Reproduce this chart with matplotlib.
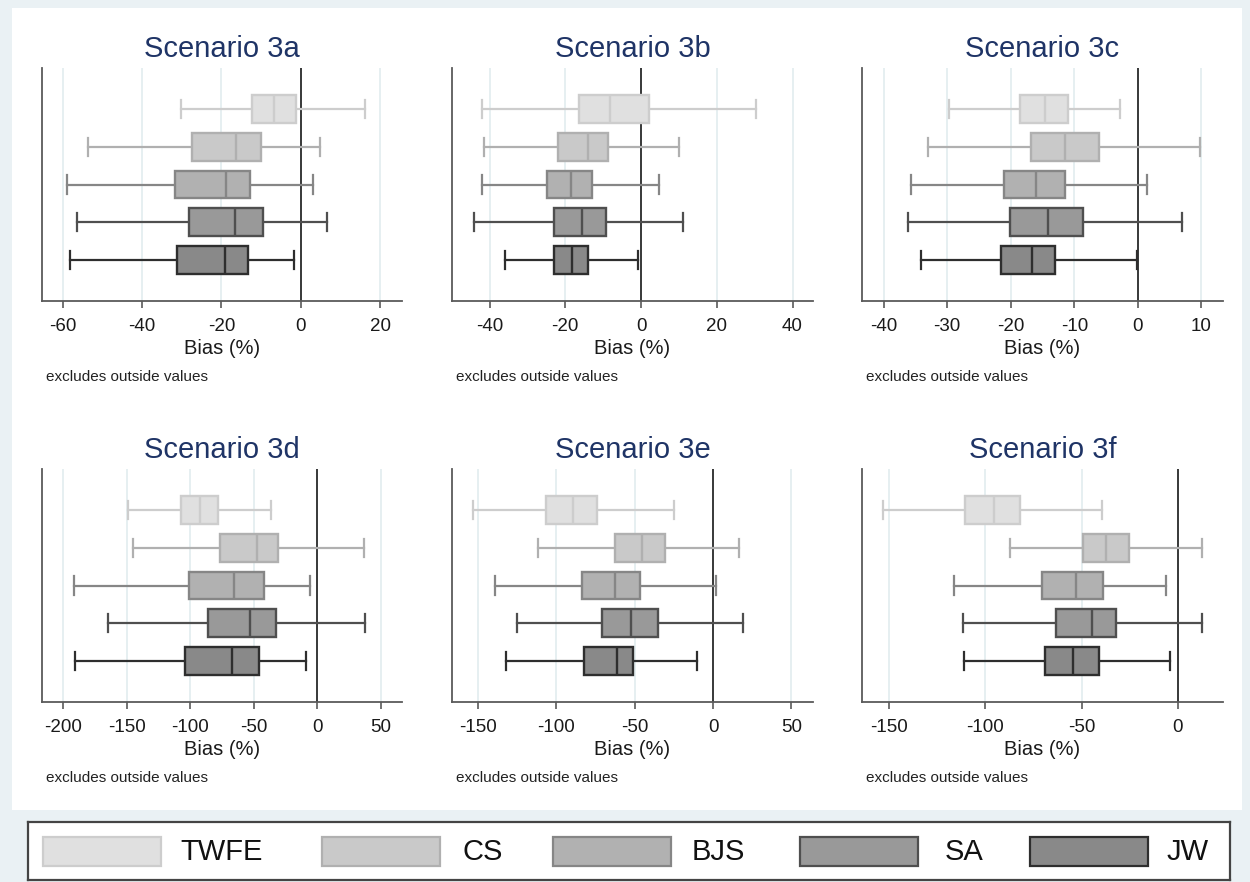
import matplotlib
matplotlib.use('Agg')
import matplotlib.pyplot as plt
from matplotlib.patches import Rectangle

plt.rcParams['font.family'] = ['Liberation Sans', 'DejaVu Sans']

# methods from top to bottom in every panel
METHODS = ['TWFE', 'CS', 'BJS', 'SA', 'JW']
SCENARIOS = ['Scenario 3a', 'Scenario 3b', 'Scenario 3c',
             'Scenario 3d', 'Scenario 3e', 'Scenario 3f']

# one row per scenario, one value per method (bias in %)
whisker_lo = [
    [-30.3, -53.6, -58.8, -56.3, -58.1],
    [-41.9, -41.5, -41.9, -44.2, -35.9],
    [-29.7, -33.0, -35.7, -36.1, -34.1],
    [-149.0, -145.4, -191.6, -165.0, -191.0],
    [-153.0, -111.7, -139.0, -125.4, -132.0],
    [-153.0, -87.2, -116.4, -111.6, -111.1],
]
quart_lo = [
    [-12.4, -27.3, -31.6, -28.2, -31.3],
    [-16.3, -21.8, -24.8, -23.1, -22.9],
    [-18.5, -16.8, -21.0, -20.1, -21.5],
    [-107.0, -76.4, -101.0, -86.1, -103.9],
    [-106.6, -62.5, -83.4, -71.0, -82.7],
    [-110.7, -49.3, -70.6, -63.5, -69.0],
]
medians = [
    [-6.8, -16.2, -18.9, -16.6, -19.1],
    [-8.1, -14.1, -18.5, -15.5, -18.1],
    [-14.6, -11.5, -16.0, -14.2, -16.6],
    [-92.7, -47.5, -65.4, -53.0, -66.9],
    [-89.6, -45.6, -62.5, -52.5, -61.4],
    [-95.3, -37.2, -53.1, -44.5, -54.3],
]
quart_hi = [
    [-1.2, -10.0, -12.7, -9.5, -13.2],
    [2.2, -8.6, -13.0, -9.3, -14.1],
    [-11.0, -6.1, -11.5, -8.6, -13.1],
    [-78.2, -31.2, -41.7, -32.3, -45.9],
    [-74.0, -30.5, -46.7, -35.4, -51.0],
    [-82.0, -25.3, -38.9, -32.0, -41.2],
]
whisker_hi = [
    [16.1, 4.8, 3.1, 6.5, -1.8],
    [30.3, 10.0, 4.7, 11.2, -0.7],
    [-2.8, 9.8, 1.4, 6.9, -0.2],
    [-36.5, 36.5, -6.0, 37.8, -9.2],
    [-25.2, 16.6, 1.9, 18.8, -10.0],
    [-39.4, 12.5, -6.4, 12.5, -4.2],
]

x_limits = [(-65.2, 25.5), (-49.9, 45.4), (-43.4, 13.4),
            (-216.8, 66.7), (-166.7, 63.8), (-164.0, 23.4)]
x_ticks = [[-60, -40, -20, 0, 20], [-40, -20, 0, 20, 40],
           [-40, -30, -20, -10, 0, 10], [-200, -150, -100, -50, 0, 50],
           [-150, -100, -50, 0, 50], [-150, -100, -50, 0]]

FILLS = ['#e0e0e0', '#c9c9c9', '#b1b1b1', '#999999', '#898989']
EDGES = ['#cdcdcd', '#b0b0b0', '#868686', '#4f4f4f', '#2e2e2e']

W, H = 1250, 882
TITLE_COLOR = '#1f3466'


def px_axes(fig, left, top, right, bottom):
    return fig.add_axes([left / W, 1 - bottom / H,
                         (right - left) / W, (bottom - top) / H])


def main():
    fig = plt.figure(figsize=(W / 100, H / 100), dpi=100)
    fig.patch.set_facecolor('#eaf1f4')
    fig.add_artist(Rectangle((12 / W, 1 - 810 / H), 1230 / W, 802 / H,
                             transform=fig.transFigure, facecolor='white',
                             edgecolor='none', zorder=0))

    col_left = [42, 452, 862]
    col_right = [402, 813, 1223]
    row_top = [68, 469]
    row_bottom = [301, 702]

    for k, name in enumerate(SCENARIOS):
        r, c = divmod(k, 3)
        ax = px_axes(fig, col_left[c], row_top[r], col_right[c], row_bottom[r])
        ax.set_facecolor('none')

        stats = [dict(label=m, whislo=whisker_lo[k][i], q1=quart_lo[k][i],
                      med=medians[k][i], q3=quart_hi[k][i],
                      whishi=whisker_hi[k][i])
                 for i, m in enumerate(METHODS)]
        bp = ax.bxp(stats, positions=range(1, 6), widths=0.74,
                    capwidths=0.48, orientation='horizontal',
                    patch_artist=True, showfliers=False, manage_ticks=False)
        for i in range(len(METHODS)):
            bp['boxes'][i].set(facecolor=FILLS[i], edgecolor=EDGES[i],
                               linewidth=1.7, zorder=3)
            bp['medians'][i].set(color=EDGES[i], linewidth=1.7, zorder=4)
            for ln in bp['whiskers'][2 * i:2 * i + 2] + bp['caps'][2 * i:2 * i + 2]:
                ln.set(color=EDGES[i], linewidth=1.6, zorder=2.5)

        ax.axvline(0, color='#2a2a2a', linewidth=1.3, zorder=2)
        ax.set_xlim(*x_limits[k])
        ax.set_ylim(6.086, -0.086)
        ax.set_xticks(x_ticks[k])
        ax.set_xticklabels([str(t) for t in x_ticks[k]])
        ax.set_yticks([])
        ax.grid(axis='x', color='#e2ecef', linewidth=1.2, zorder=0)
        ax.set_axisbelow(True)
        for side in ['top', 'right']:
            ax.spines[side].set_visible(False)
        for side in ['left', 'bottom']:
            ax.spines[side].set_color('#5a5a5a')
            ax.spines[side].set_linewidth(1.3)
        ax.tick_params(axis='x', direction='out', length=5, width=1.2,
                       color='#5a5a5a', labelsize=13.5, pad=7,
                       labelcolor='#1a1a1a')
        ax.set_xlabel('Bias (%)', fontsize=14.5, labelpad=3, color='#1a1a1a')
        ax.text(0.5, 1 + 19 / 233, name, transform=ax.transAxes,
                ha='center', va='center', fontsize=21, color=TITLE_COLOR)
        fig.text((col_left[c] + 4) / W, 1 - (row_bottom[r] + 76) / H,
                 'excludes outside values', fontsize=11, color='#222222',
                 ha='left', va='center')

    # legend strip at the bottom
    leg = px_axes(fig, 28, 822, 1230, 880)
    leg.set_xlim(28, 1230)
    leg.set_ylim(880, 822)
    leg.set_xticks([])
    leg.set_yticks([])
    leg.set_facecolor('white')
    for sp in leg.spines.values():
        sp.set_color('#444444')
        sp.set_linewidth(1.6)
    patch_x = [43, 322, 553, 800, 1030]
    text_x = [180, 462, 692, 945, 1167]
    for i, m in enumerate(METHODS):
        leg.add_patch(Rectangle((patch_x[i], 837), 118, 29,
                                facecolor=FILLS[i], edgecolor=EDGES[i],
                                linewidth=1.6))
        leg.text(text_x[i], 852, m, fontsize=21, va='center', ha='left',
                 color='#111111')

    fig.savefig('out.png', dpi=100, facecolor=fig.get_facecolor())


if __name__ == '__main__':
    main()
